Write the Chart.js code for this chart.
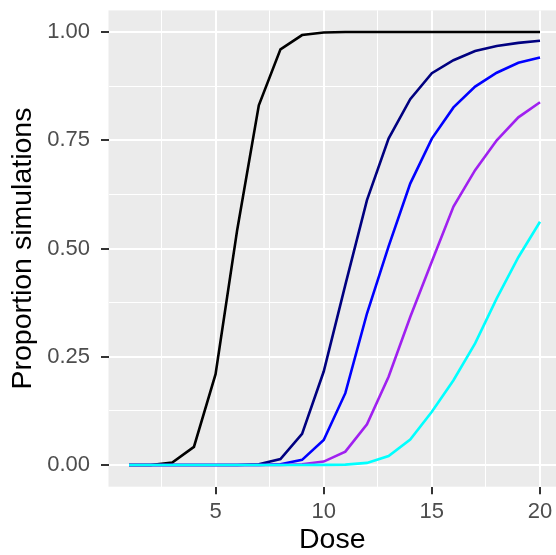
<!DOCTYPE html>
<html>
<head>
<meta charset="utf-8">
<script src="https://cdn.jsdelivr.net/npm/chart.js@4"></script>
<style>
  body { margin: 0; background: #fff; }
  canvas { display: block; }
</style>
</head>
<body>
<canvas id="dose-chart" width="556" height="555"></canvas>
<script>
// -------- DATA -------- //
const doses = [1, 2, 3, 4, 5, 6, 7, 8, 9, 10, 11, 12, 13, 14, 15, 16, 17, 18, 19, 20];
const propBlack  = [0, 0, 0.006, 0.042, 0.21, 0.543, 0.831, 0.96, 0.993, 0.999, 1, 1, 1, 1, 1, 1, 1, 1, 1, 1];
const propNavy   = [0, 0, 0, 0, 0, 0, 0.002, 0.014, 0.072, 0.216, 0.416, 0.612, 0.754, 0.845, 0.905, 0.935, 0.956, 0.968, 0.975, 0.98];
const propBlue   = [0, 0, 0, 0, 0, 0, 0, 0.002, 0.012, 0.058, 0.166, 0.35, 0.505, 0.65, 0.754, 0.826, 0.874, 0.906, 0.929, 0.941];
const propPurple = [0, 0, 0, 0, 0, 0, 0, 0, 0.002, 0.008, 0.031, 0.094, 0.204, 0.342, 0.47, 0.597, 0.681, 0.75, 0.803, 0.838];
const propCyan   = [0, 0, 0, 0, 0, 0, 0, 0, 0, 0.0005, 0.001, 0.005, 0.021, 0.059, 0.123, 0.196, 0.281, 0.385, 0.48, 0.562];

const xTicks = [2.5, 5, 7.5, 10, 12.5, 15, 17.5, 20];
const yTicks = [0, 0.125, 0.25, 0.375, 0.5, 0.625, 0.75, 0.875, 1];

// -------- CHART -------- //
const toPoints = arr => doses.map((d, i) => ({ x: d, y: arr[i] }));

const series = [
  { data: propBlack,  color: '#000000' },
  { data: propNavy,   color: '#000080' },
  { data: propBlue,   color: '#0000FF' },
  { data: propPurple, color: '#A020F0' },
  { data: propCyan,   color: '#00FFFF' }
];

const panelBg = {
  id: 'panelBg',
  beforeDraw(chart) {
    const { ctx, chartArea: a } = chart;
    ctx.save();
    ctx.fillStyle = '#EBEBEB';
    ctx.fillRect(a.left, a.top, a.right - a.left, a.bottom - a.top);
    ctx.restore();
  }
};

const isMajorX = v => v % 5 === 0;
const isMajorY = v => Math.abs(v * 4 - Math.round(v * 4)) < 1e-9;

// no extra room for edge labels, the panel sizes are fixed
const noEdgePad = scale => {
  scale.paddingTop = 0;
  scale.paddingBottom = 0;
  scale.paddingLeft = 0;
  scale.paddingRight = 0;
};

Chart.defaults.font.family = '"Liberation Sans", Arial, sans-serif';

new Chart(document.getElementById('dose-chart'), {
  type: 'line',
  data: {
    datasets: series.map((s, i) => ({
      data: toPoints(s.data),
      borderColor: s.color,
      backgroundColor: s.color,
      borderWidth: 2.6,
      pointRadius: 0,
      tension: 0,
      fill: false,
      order: series.length - i
    }))
  },
  options: {
    responsive: false,
    devicePixelRatio: 1,
    animation: false,
    layout: { padding: { top: 10.4, right: 0, left: 0, bottom: 0 } },
    plugins: {
      legend: { display: false },
      tooltip: { enabled: false }
    },
    scales: {
      x: {
        type: 'linear',
        min: 0.05,
        max: 20.74,
        afterBuildTicks: scale => { scale.ticks = xTicks.map(v => ({ value: v })); },
        afterFit: scale => { scale.height = 68.3; noEdgePad(scale); },
        border: { display: false },
        grid: {
          color: '#FFFFFF',
          lineWidth: c => isMajorX(c.tick.value) ? 2 : 1,
          tickColor: c => isMajorX(c.tick.value) ? '#333333' : 'rgba(0,0,0,0)',
          tickLength: 7.5,
          tickWidth: 2
        },
        ticks: {
          autoSkip: false,
          maxRotation: 0,
          padding: 5,
          color: '#4D4D4D',
          font: { size: 22 },
          callback: v => isMajorX(v) ? String(v) : ''
        },
        title: {
          display: true,
          text: 'Dose',
          color: '#000000',
          font: { size: 28.5, lineHeight: 1.05 },
          padding: 0
        }
      },
      y: {
        type: 'linear',
        min: -0.05,
        max: 1.05,
        afterBuildTicks: scale => { scale.ticks = yTicks.map(v => ({ value: v })); },
        afterFit: scale => { scale.width = 108.5; noEdgePad(scale); },
        border: { display: false },
        grid: {
          color: '#FFFFFF',
          lineWidth: c => isMajorY(c.tick.value) ? 2 : 1,
          tickColor: c => isMajorY(c.tick.value) ? '#333333' : 'rgba(0,0,0,0)',
          tickLength: 7.5,
          tickWidth: 2
        },
        ticks: {
          autoSkip: false,
          padding: 11,
          color: '#4D4D4D',
          font: { size: 22 },
          callback: v => isMajorY(v) ? v.toFixed(2) : ''
        },
        title: {
          display: true,
          text: 'Proportion simulations',
          color: '#000000',
          font: { size: 28.5 },
          padding: { top: 6, bottom: 0 }
        }
      }
    }
  },
  plugins: [panelBg]
});
</script>
</body>
</html>
